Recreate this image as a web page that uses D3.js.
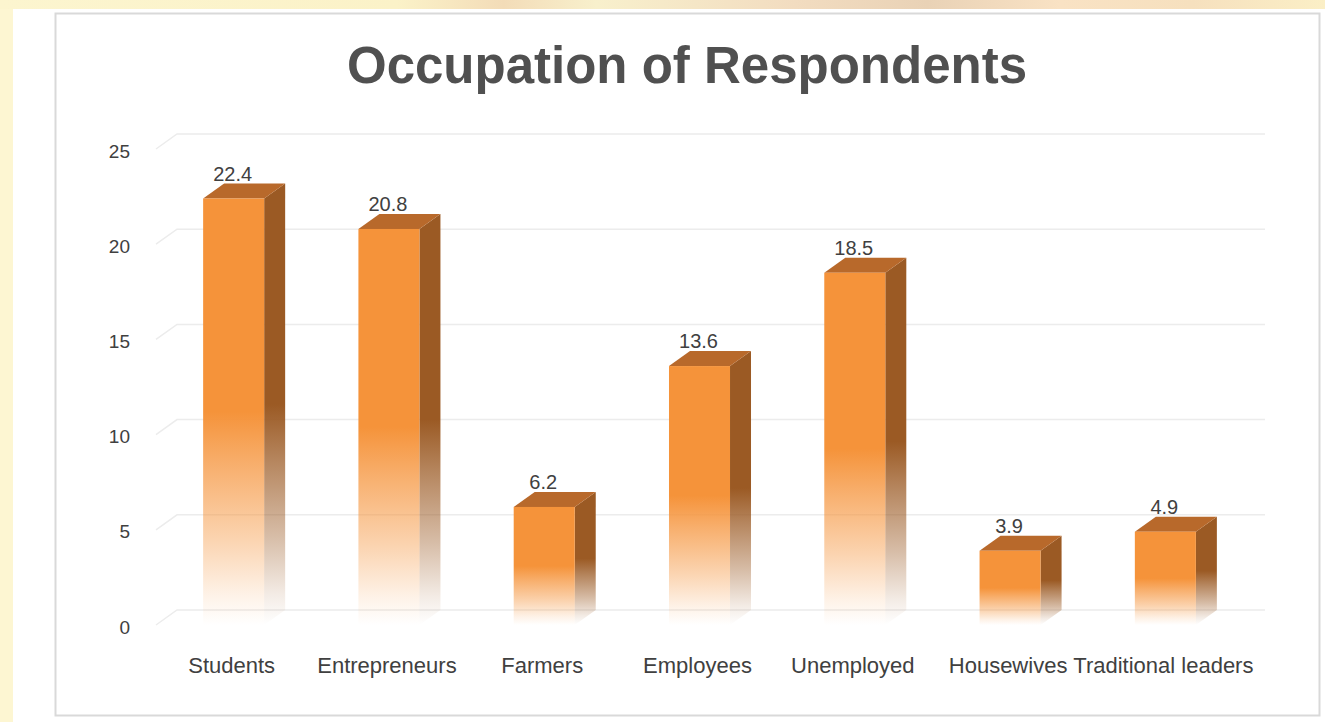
<!DOCTYPE html>
<html>
<head>
<meta charset="utf-8">
<script src="https://cdn.jsdelivr.net/npm/d3@7"></script>
<style>
  body { margin: 0; padding: 0; background: #ffffff; }
  svg { display: block; }
  text { font-family: "Liberation Sans", Arial, sans-serif; }
</style>
</head>
<body>
<svg id="chart" width="1325" height="722"></svg>
<script>
const categories = ["Students", "Entrepreneurs", "Farmers", "Employees", "Unemployed", "Housewives", "Traditional leaders"];
const values = [22.4, 20.8, 6.2, 13.6, 18.5, 3.9, 4.9];
const tickValues = [0, 5, 10, 15, 20, 25];
const title = "Occupation of Respondents";

const W = 1325, H = 722;
const svg = d3.select("#chart");
const defs = svg.append("defs");

// background
const bgGrad = defs.append("linearGradient").attr("id", "bgTop").attr("x1", 0).attr("x2", 1).attr("y1", 0).attr("y2", 0);
[[0, "#fcf5cf"], [0.3, "#fbf2c8"], [0.38, "#f3dcb8"], [0.45, "#f8f0cc"], [0.6, "#f2dcc0"], [0.7, "#e9d2b6"], [0.8, "#f9e2c4"], [0.9, "#f6e0be"], [1, "#fbefc6"]]
  .forEach(([o, c]) => bgGrad.append("stop").attr("offset", o).attr("stop-color", c));
svg.append("rect").attr("width", W).attr("height", H).attr("fill", "#fdf6d2");
svg.append("rect").attr("x", 0).attr("y", 0).attr("width", W).attr("height", 9).attr("fill", "url(#bgTop)");
svg.append("rect").attr("x", 13).attr("y", 9).attr("width", W - 13).attr("height", H - 9).attr("fill", "#ffffff");
svg.append("rect").attr("x", 55.5).attr("y", 13.5).attr("width", 1264).attr("height", 702)
  .attr("fill", "#ffffff").attr("stroke", "#d9d9d9").attr("stroke-width", 2);

// gradients for bars
function fadeGrad(id, color) {
  const g = defs.append("linearGradient").attr("id", id).attr("x1", 0).attr("x2", 0).attr("y1", 0).attr("y2", 1);
  [[0, 1], [0.5, 1], [0.62, 0.75], [0.8, 0.4], [0.93, 0.12], [1, 0]]
    .forEach(([o, a]) => g.append("stop").attr("offset", o).attr("stop-color", color).attr("stop-opacity", a));
}
fadeGrad("frontGrad", "#f5933a");
fadeGrad("sideGrad", "#9b5a24");

// scales
const y = d3.scaleLinear().domain([0, 25]).range([625, 149]);
const x = d3.scaleBand().domain(categories).range([156, 1243]).paddingInner(0.607).paddingOuter(0.3035);
const dx = 21, dy = -15;
const plotRight = 1265;

// title
svg.append("text").attr("x", 687).attr("y", 83).attr("text-anchor", "middle")
  .attr("font-size", 51).attr("font-weight", "bold").attr("fill", "#505050").text(title);

// gridlines (3D: floor diagonal + back wall)
const grid = svg.append("g");
grid.selectAll("path").data(tickValues).join("path")
  .attr("d", d => `M${x.range()[0]},${y(d)} L${x.range()[0] + dx},${y(d) + dy} L${plotRight},${y(d) + dy}`)
  .attr("fill", "none").attr("stroke", "#ececec").attr("stroke-width", 1.5);

// y axis labels
const yAxis = d3.axisLeft(y).tickValues(tickValues).tickSize(0).tickPadding(0);
const yg = svg.append("g").attr("transform", "translate(130,2)").call(yAxis);
yg.select(".domain").remove();
yg.selectAll("text").attr("font-size", 19).attr("fill", "#404040")
  .style("font-family", "'Liberation Sans', Arial, sans-serif");

// bars
const bars = svg.append("g").selectAll("g").data(categories.map((c, i) => ({ c, v: values[i] }))).join("g");
const bw = x.bandwidth();
// side face
bars.append("path").attr("d", d => {
  const x1 = x(d.c) + bw, yt = y(d.v), yb = y(0);
  return `M${x1},${yt} L${x1 + dx},${yt + dy} L${x1 + dx},${yb + dy} L${x1},${yb} Z`;
}).attr("fill", "url(#sideGrad)");
// top face
bars.append("path").attr("d", d => {
  const x0 = x(d.c), yt = y(d.v);
  return `M${x0},${yt} L${x0 + dx},${yt + dy} L${x0 + bw + dx},${yt + dy} L${x0 + bw},${yt} Z`;
}).attr("fill", "#b8692b");
// front face
bars.append("rect").attr("x", d => x(d.c)).attr("y", d => y(d.v))
  .attr("width", bw).attr("height", d => y(0) - y(d.v)).attr("fill", "url(#frontGrad)");

// value labels
bars.append("text").attr("x", d => x(d.c) + bw / 2 - 1).attr("y", d => y(d.v) + dy - 3)
  .attr("text-anchor", "middle").attr("font-size", 20).attr("fill", "#404040").text(d => d.v);

// category labels
const xAxis = d3.axisBottom(x).tickSize(0).tickPadding(0);
const xg = svg.append("g").attr("transform", "translate(-2,657)").call(xAxis);
xg.select(".domain").remove();
xg.selectAll("text").attr("font-size", 22).attr("fill", "#404040")
  .style("font-family", "'Liberation Sans', Arial, sans-serif");
</script>
</body>
</html>
